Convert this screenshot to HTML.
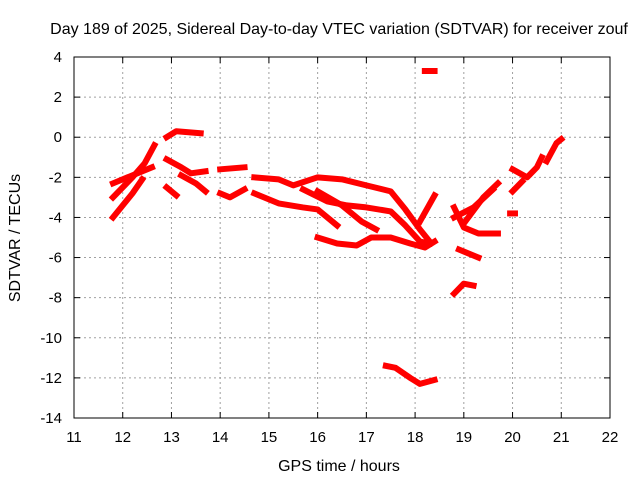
<!DOCTYPE html>
<html><head><meta charset="utf-8"><style>
body{margin:0;background:#fff}
svg{display:block;font-family:"Liberation Sans",sans-serif}
</style></head><body>
<svg id="c" width="640" height="480">
<text x="339" y="34" font-size="16" text-anchor="middle">Day 189 of 2025, Sidereal Day-to-day VTEC variation (SDTVAR) for receiver zouf</text>
<text x="339" y="471" font-size="16" text-anchor="middle">GPS time / hours</text>
<text transform="translate(20,238) rotate(-90)" font-size="16" text-anchor="middle">SDTVAR / TECUs</text>
<g id="grid"></g><g id="data"></g>
<rect x="74" y="57" width="536" height="361" fill="none" stroke="#000"/>
<g id="ticks"></g>
</svg>
<script>
const xTicks=[11,12,13,14,15,16,17,18,19,20,21,22];
const yTicks=[4,2,0,-2,-4,-6,-8,-10,-12,-14];
const track1=[[11.8,-3.0],[12.2,-2.0],[12.45,-1.3],[12.65,-0.4]];
const track2=[[11.8,-2.3],[12.1,-2.0],[12.4,-1.7],[12.6,-1.5]];
const track3=[[11.8,-4.0],[12.0,-3.4],[12.2,-2.8],[12.4,-2.1]];
const track4=[[12.9,0.0],[13.1,0.3],[13.6,0.2]];
const track5=[[12.9,-1.1],[13.2,-1.5],[13.4,-1.8],[13.7,-1.7]];
const track6=[[13.2,-1.9],[13.5,-2.3],[13.7,-2.7]];
const track7=[[12.9,-2.5],[13.1,-2.9]];
const track8=[[14.0,-1.6],[14.5,-1.5]];
const track9=[[14.0,-2.8],[14.2,-3.0],[14.5,-2.6]];
const track10=[[14.7,-2.0],[15.2,-2.1],[15.5,-2.4],[16.0,-2.0],[16.5,-2.1],[17.0,-2.4],[17.5,-2.7],[17.8,-3.6],[18.1,-4.6],[18.3,-5.2]];
const track11=[[14.7,-2.8],[15.2,-3.3],[15.7,-3.5],[16.0,-3.6],[16.4,-4.4]];
const track12=[[15.7,-2.6],[16.2,-3.2],[16.6,-3.4],[17.0,-3.5],[17.5,-3.7],[17.8,-4.4],[18.1,-5.2],[18.3,-5.3]];
const track13=[[16.0,-2.7],[16.5,-3.4],[16.9,-4.2],[17.2,-4.6]];
const track14=[[16.0,-5.0],[16.4,-5.3],[16.8,-5.4],[17.1,-5.0],[17.5,-5.0],[17.9,-5.3],[18.2,-5.5],[18.4,-5.2]];
const track15=[[18.1,-4.2],[18.4,-2.9]];
const track16=[[18.2,3.3],[18.4,3.3]];
const track17=[[17.4,-11.4],[17.6,-11.5],[17.9,-12.0],[18.1,-12.3],[18.4,-12.1]];
const track18=[[18.8,-3.5],[19.0,-4.5],[19.3,-4.8],[19.7,-4.8]];
const track19=[[18.8,-4.0],[19.2,-3.5],[19.6,-2.6]];
const track20=[[19.0,-4.3],[19.4,-3.0],[19.7,-2.3]];
const track21=[[18.9,-5.6],[19.3,-6.0]];
const track22=[[18.8,-7.8],[19.0,-7.3],[19.2,-7.4]];
const track23=[[20.0,-1.6],[20.3,-2.0],[20.5,-1.5],[20.6,-1.0]];
const track24=[[20.0,-2.7],[20.2,-2.2]];
const track25=[[19.95,-3.8],[20.05,-3.8]];
const track26=[[20.7,-1.2],[20.9,-0.3],[21.0,-0.1]];
const tracks=[track1,track2,track3,track4,track5,track6,track7,track8,track9,track10,track11,track12,track13,track14,track15,track16,track17,track18,track19,track20,track21,track22,track23,track24,track25,track26];
const NS="http://www.w3.org/2000/svg";
const X=h=>74+(h-11)*(536/11);
const Y=v=>57+(4-v)*(361/18);
const grid=document.getElementById('grid'),ticks=document.getElementById('ticks'),data=document.getElementById('data');
function mk(t,a,p){const e=document.createElementNS(NS,t);for(const k in a)e.setAttribute(k,a[k]);p.appendChild(e);return e;}
xTicks.forEach(t=>{const x=X(t);
 if(t>11&&t<22){const g=mk('line',{x1:x,x2:x,y1:57,y2:418,stroke:'#a0a0a0','stroke-dasharray':'2,3'},grid);
 
 }
 mk('line',{x1:x,x2:x,y1:418,y2:412,stroke:'#000'},ticks);mk('line',{x1:x,x2:x,y1:57,y2:63,stroke:'#000'},ticks);
 const l=mk('text',{x:x,y:442,'font-size':15,'text-anchor':'middle'},ticks);l.textContent=t;
 
 });
yTicks.forEach(t=>{const y=Y(t);
 if(t<4&&t>-14){const g=mk('line',{x1:74,x2:610,y1:y,y2:y,stroke:'#a0a0a0','stroke-dasharray':'2,3'},grid);
 
 }
 mk('line',{x1:74,x2:80,y1:y,y2:y,stroke:'#000'},ticks);mk('line',{x1:604,x2:610,y1:y,y2:y,stroke:'#000'},ticks);
 const l=mk('text',{x:62,y:y+5,'font-size':15,'text-anchor':'end'},ticks);l.textContent=t;
 
 });
tracks.forEach((tr,i)=>{
 const p=mk('polyline',{points:tr.map(d=>X(d[0])+','+Y(d[1])).join(' '),fill:'none',stroke:'#f00','stroke-width':6,'stroke-linejoin':'round','stroke-linecap':'square'},data);
 
 
});
</script>
</body></html>
